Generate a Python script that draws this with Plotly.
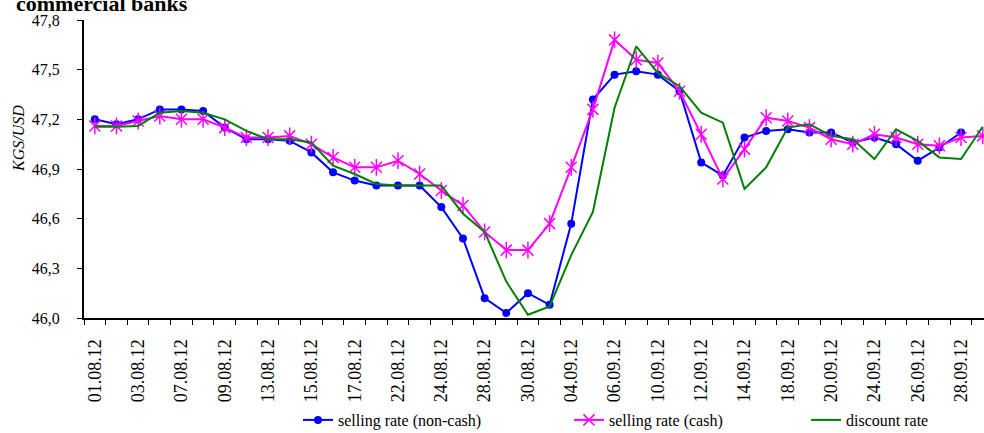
import plotly.graph_objects as go

# Trading days, August - September 2012
dates = ["01.08.12", "02.08.12", "03.08.12", "06.08.12", "07.08.12", "08.08.12",
         "09.08.12", "10.08.12", "13.08.12", "14.08.12", "15.08.12", "16.08.12",
         "17.08.12", "21.08.12", "22.08.12", "23.08.12", "24.08.12", "27.08.12",
         "28.08.12", "29.08.12", "30.08.12", "03.09.12", "04.09.12", "05.09.12",
         "06.09.12", "07.09.12", "10.09.12", "11.09.12", "12.09.12", "13.09.12",
         "14.09.12", "17.09.12", "18.09.12", "19.09.12", "20.09.12", "21.09.12",
         "24.09.12", "25.09.12", "26.09.12", "27.09.12", "28.09.12", "01.10.12"]

selling_noncash = [47.20, 47.17, 47.20, 47.26, 47.26, 47.25, 47.15, 47.08, 47.08, 47.07,
                   47.00, 46.88, 46.83, 46.80, 46.80, 46.80, 46.67, 46.48, 46.12, 46.03,
                   46.15, 46.08, 46.57, 47.32, 47.47, 47.49, 47.47, 47.37, 46.94, 46.86,
                   47.09, 47.13, 47.14, 47.12, 47.12, 47.06, 47.09, 47.05, 46.95, 47.03,
                   47.12, None]

selling_cash = [47.16, 47.16, 47.19, 47.22, 47.20, 47.20, 47.15, 47.09, 47.09, 47.10,
                47.05, 46.97, 46.91, 46.91, 46.95, 46.87, 46.77, 46.68, 46.52, 46.41,
                46.41, 46.57, 46.91, 47.26, 47.68, 47.56, 47.54, 47.37, 47.11, 46.84,
                47.02, 47.21, 47.19, 47.15, 47.08, 47.05, 47.11, 47.09, 47.05, 47.04,
                47.09, 47.10]

discount_rate = [47.155, 47.155, 47.16, 47.24, 47.25, 47.24, 47.20, 47.13, 47.08, 47.08,
                 47.06, 46.92, 46.87, 46.81, 46.80, 46.80, 46.80, 46.63, 46.52, 46.22,
                 46.02, 46.07, 46.38, 46.64, 47.27, 47.64, 47.48, 47.40, 47.24, 47.18,
                 46.78, 46.91, 47.15, 47.17, 47.10, 47.08, 46.96, 47.14, 47.07, 46.97,
                 46.96, 47.155]

x = list(range(len(dates)))
label_idx = x[::2]
label_txt = dates[::2]
boundaries = [i - 0.5 for i in range(len(dates) + 1)]

SERIF = '"Liberation Serif", "Times New Roman", serif'
BLUE = "#0000FF"
PINK = "#FF00FF"
GREEN = "#008000"

fig = go.Figure()

fig.add_trace(go.Scatter(
    x=x, y=selling_noncash, mode="lines+markers", name="selling rate (non-cash)",
    line=dict(color=BLUE, width=2), marker=dict(symbol="circle", size=8, color=BLUE),
    legend="legend", connectgaps=False))

fig.add_trace(go.Scatter(
    x=x, y=selling_cash, mode="lines+markers", name="selling rate (cash)",
    line=dict(color=PINK, width=2),
    marker=dict(symbol="x-thin-open", size=11, color=PINK, line=dict(color=PINK, width=1.5)),
    legend="legend2"))
# vertical stroke completing the six-armed star marker
fig.add_trace(go.Scatter(
    x=x, y=selling_cash, mode="markers", showlegend=False, hoverinfo="skip",
    marker=dict(symbol="line-ns-open", size=12, color=PINK, line=dict(color=PINK, width=1.5))))

fig.add_trace(go.Scatter(
    x=x, y=discount_rate, mode="lines", name="discount rate",
    line=dict(color=GREEN, width=2), legend="legend3"))

legend_common = dict(orientation="h", xref="container", yref="container",
                     yanchor="middle", xanchor="left", bgcolor="rgba(0,0,0,0)",
                     font=dict(family=SERIF, size=16, color="black"))

fig.update_layout(
    width=984, height=433,
    margin=dict(l=84, r=0, t=20, b=115),
    paper_bgcolor="white", plot_bgcolor="white",
    separators=", ",
    font=dict(family=SERIF, size=16, color="black"),
    legend=dict(x=298 / 984, y=13 / 433, **legend_common),
    legend2=dict(x=569 / 984, y=13 / 433, **legend_common),
    legend3=dict(x=806 / 984, y=13 / 433, **legend_common),
    xaxis=dict(
        range=[-0.5, 41.06], showgrid=False, zeroline=False,
        showline=True, linecolor="black", linewidth=2,
        tickmode="array", tickvals=label_idx, ticktext=label_txt,
        ticks="", tickangle=-90, tickfont=dict(family=SERIF, size=18, color="black"),
        ticklabelstandoff=12,
        minor=dict(tickmode="array", tickvals=boundaries, ticks="outside",
                   ticklen=5, tickwidth=1, tickcolor="black", showgrid=False),
    ),
    yaxis=dict(
        range=[46.0, 47.8], tick0=46.0, dtick=0.3, tickformat=".1f",
        showgrid=False, zeroline=False,
        showline=True, linecolor="black", linewidth=2,
        ticks="outside", ticklen=5, tickwidth=1, tickcolor="black",
        tickfont=dict(family=SERIF, size=16, color="black"),
        ticklabelstandoff=14,
    ),
)

# y-axis title
fig.add_annotation(
    text="<i>KGS/USD</i>", xref="paper", yref="paper",
    x=0, y=1 - (139 - 20) / 298, xanchor="center", yanchor="middle",
    xshift=-66, textangle=-90,
    showarrow=False, font=dict(family=SERIF, size=16, color="black"))

# chart title (second line)
fig.add_annotation(
    text="<b>commercial banks</b>", xref="paper", yref="paper",
    x=0, y=1, xanchor="left", yanchor="bottom", xshift=-70, yshift=2,
    showarrow=False, font=dict(family=SERIF, size=22, color="black"))

fig.write_html("out.html")
